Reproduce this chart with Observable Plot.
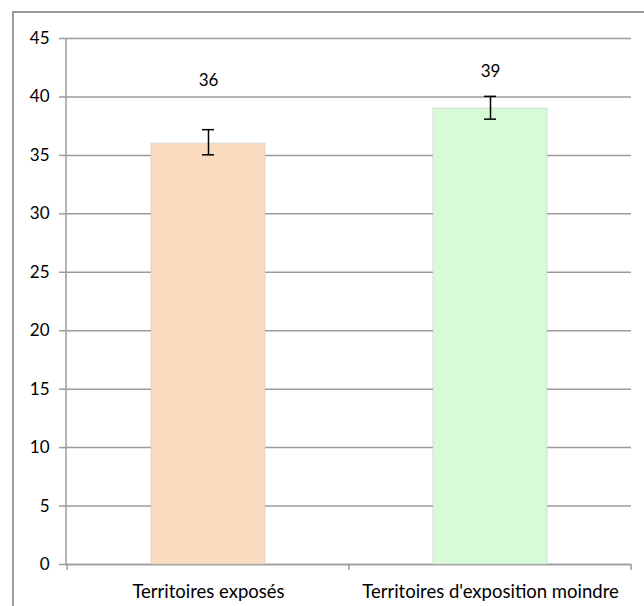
<!DOCTYPE html>
<html>
<head>
<meta charset="utf-8">
<script src="https://cdn.jsdelivr.net/npm/d3@7"></script>
<script src="https://cdn.jsdelivr.net/npm/@observablehq/plot@0.6"></script>
<style>
  html, body { margin: 0; padding: 0; background: #fff; }
  #wrap { position: relative; width: 644px; height: 606px; overflow: hidden; }
  #frame { position: absolute; left: 12px; top: 11px; width: 700px; height: 700px; border: 2px solid #9b9b9b; box-sizing: border-box; }
  #chart { position: absolute; left: 0; top: 0; }
</style>
</head>
<body>
<div id="wrap"><div id="frame"></div><div id="chart"></div></div>
<script>
const categories = ["Territoires exposés", "Territoires d'exposition moindre"];
const values = [36, 39];
const errLow = [35.05, 38.1];
const errHigh = [37.2, 40.05];
const labelY = [41.4, 42.2];
const barColors = ["#fbdcc1", "#d6fbd6"];
const yTicks = [0, 5, 10, 15, 20, 25, 30, 35, 40, 45];

const data = categories.map((c, i) => ({
  cat: c, value: values[i], lo: errLow[i], hi: errHigh[i], ly: labelY[i], color: barColors[i]
}));

const font = "Lato, 'Open Sans', sans-serif";

// boundary ticks on the x axis, computed from the band scale
function boundaryTicks(index, scales, values, dims) {
  const g = d3.create("svg:g");
  const x = scales.x;
  const y0 = scales.y(0);
  const step = x(categories[1]) - x(categories[0]);
  const xs = categories.map(c => x(c)).concat([x(categories[categories.length - 1]) + step]);
  for (const xv of xs) {
    g.append("line").attr("x1", xv).attr("x2", xv).attr("y1", y0).attr("y2", y0 + 6)
      .attr("stroke", "#9b9b9b").attr("stroke-width", 1.5);
  }
  return g.node();
}

const plot = Plot.plot({
  width: 644,
  height: 606,
  marginLeft: 66,
  marginRight: 13,
  marginTop: 38,
  marginBottom: 42,
  style: { fontFamily: font, fontSize: "17px", color: "#000", background: "transparent" },
  x: { domain: categories, padding: 0, label: null },
  y: { domain: [0, 45], label: null },
  marks: [
    Plot.gridY(yTicks, { stroke: "#9b9b9b", strokeOpacity: 1, strokeWidth: 1.5 }),
    Plot.ruleY([0], { stroke: "#9b9b9b", strokeWidth: 1.5 }),
    Plot.barY(data, { x: "cat", y: "value", fill: "color", insetLeft: 84, insetRight: 84 }),
    Plot.barY(data, { x: "cat", y: "value", fill: "none", stroke: "#c8c8c8", strokeOpacity: 0.6, insetLeft: 84, insetRight: 84 }),
    Plot.ruleX(data, { x: "cat", y1: "lo", y2: "hi", stroke: "#000", strokeWidth: 1.5 }),
    Plot.tickY(data, { x: "cat", y: "lo", stroke: "#000", strokeWidth: 1.5, insetLeft: 135, insetRight: 135 }),
    Plot.tickY(data, { x: "cat", y: "hi", stroke: "#000", strokeWidth: 1.5, insetLeft: 135, insetRight: 135 }),
    Plot.text(data, { x: "cat", y: "ly", text: d => String(d.value), fontSize: 17, fill: "#000" }),
    Plot.axisY(yTicks, { label: null, tickSize: 7, tickPadding: 10, stroke: "#9b9b9b", strokeWidth: 1.5, fontSize: 17, fill: "#000" }),
    Plot.axisX({ label: null, tickSize: 0, tickPadding: 20, fontSize: 18.5, fill: "#000" }),
    boundaryTicks
  ]
});

document.getElementById("chart").appendChild(plot);
// y-axis line
d3.select(plot).append("line").attr("x1", 66).attr("x2", 66).attr("y1", 38).attr("y2", 564)
  .attr("stroke", "#9b9b9b").attr("stroke-width", 1.5);
</script>
</body>
</html>
